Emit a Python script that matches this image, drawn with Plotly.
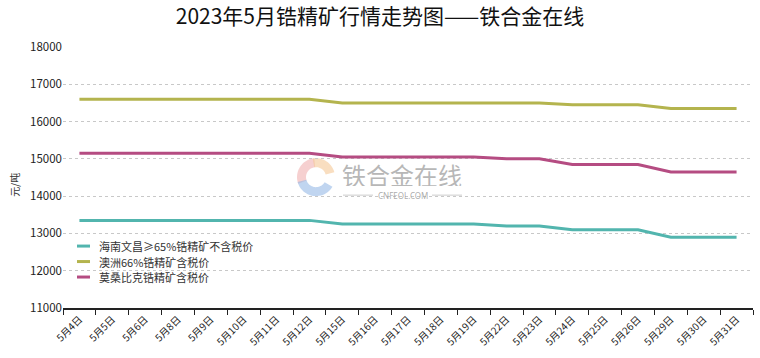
import math
import plotly.graph_objects as go

categories = ["5月4日", "5月5日", "5月6日", "5月8日", "5月9日", "5月10日", "5月11日",
              "5月12日", "5月15日", "5月16日", "5月17日", "5月18日", "5月19日", "5月22日",
              "5月23日", "5月24日", "5月25日", "5月26日", "5月29日", "5月30日", "5月31日"]

hainan = [13350, 13350, 13350, 13350, 13350, 13350, 13350, 13350, 13250, 13250, 13250,
          13250, 13250, 13200, 13200, 13100, 13100, 13100, 12900, 12900, 12900]
aozhou = [16600, 16600, 16600, 16600, 16600, 16600, 16600, 16600, 16500, 16500, 16500,
          16500, 16500, 16500, 16500, 16450, 16450, 16450, 16350, 16350, 16350]
mosang = [15150, 15150, 15150, 15150, 15150, 15150, 15150, 15150, 15050, 15050, 15050,
          15050, 15050, 15000, 15000, 14850, 14850, 14850, 14650, 14650, 14650]

series_names = ["海南文昌≥65%锆精矿不含税价", "澳洲66%锆精矿含税价", "莫桑比克锆精矿含税价"]
colors = ["#52B5AE", "#B4B44E", "#B54C82"]

y_ticks = [11000, 12000, 13000, 14000, 15000, 16000, 17000, 18000]
y_tick_text = [str(v) for v in y_ticks]

FONT = "Noto Sans CJK SC, Noto Sans, sans-serif"

fig = go.Figure()
for name, vals, col in zip(series_names, [hainan, aozhou, mosang], colors):
    fig.add_trace(go.Scatter(x=categories, y=vals, name=name, mode="lines",
                             line=dict(color=col, width=3), showlegend=False))

# plot area in pixels
L, R, T, B = 63, 753, 46.7, 308
W, H = 760, 358


def px2paper(px, py):
    return (px - L) / (R - L), (B - py) / (B - T)


def ring_path(cx, cy, r_out, r_in, a0, a1, n=24):
    pts = []
    for i in range(n + 1):
        a = math.radians(a0 + (a1 - a0) * i / n)
        pts.append((cx + r_out * math.cos(a), cy - r_out * math.sin(a)))
    for i in range(n, -1, -1):
        a = math.radians(a0 + (a1 - a0) * i / n)
        pts.append((cx + r_in * math.cos(a), cy - r_in * math.sin(a)))
    pp = [px2paper(x, y) for x, y in pts]
    return "M " + " L ".join(f"{x:.5f},{y:.5f}" for x, y in pp) + " Z"


shapes = []
annotations = []

# watermark logo
for a0, a1, col in [(95, 200, "rgba(238,170,170,0.55)"),
                    (15, 100, "rgba(245,200,150,0.6)"),
                    (195, 330, "rgba(150,185,230,0.6)")]:
    shapes.append(dict(type="path", xref="paper", yref="paper",
                       path=ring_path(316, 177, 19, 10, a0, a1),
                       fillcolor=col, line=dict(width=0), layer="below"))
for x0, x1 in [(343, 373), (432, 462)]:
    p0 = px2paper(x0, 195)
    p1 = px2paper(x1, 195)
    shapes.append(dict(type="line", xref="paper", yref="paper",
                       x0=p0[0], x1=p1[0], y0=p0[1], y1=p1[1],
                       line=dict(color="rgba(170,170,170,0.6)", width=1), layer="below"))

wx, wy = px2paper(402, 174)
annotations.append(dict(text="铁合金在线", x=wx, y=wy, xref="paper", yref="paper",
                        showarrow=False, borderpad=0, height=24,
                        font=dict(size=24, color="rgba(160,160,160,0.75)", family=FONT)))
cx_, cy_ = px2paper(402.5, 195.5)
annotations.append(dict(text="CNFEOL.COM", x=cx_, y=cy_, xref="paper", yref="paper",
                        showarrow=False, borderpad=0, height=9,
                        font=dict(size=8, color="rgba(150,150,150,0.8)",
                                  family="Noto Sans, sans-serif")))

# legend (drawn as line + label)
legend_y = [246, 261.5, 277]
for name, col, ly in zip(series_names, colors, legend_y):
    a = px2paper(77, ly)
    b = px2paper(90, ly)
    shapes.append(dict(type="line", xref="paper", yref="paper",
                       x0=a[0], x1=b[0], y0=a[1], y1=b[1],
                       line=dict(color=col, width=3)))
    t = px2paper(97, ly)
    annotations.append(dict(text=name, x=t[0], y=t[1], xref="paper", yref="paper",
                            xanchor="left", yanchor="middle", showarrow=False,
                            font=dict(size=11, color="#333", family=FONT)))

# y-axis title
yt = px2paper(5, 185)
annotations.append(dict(text="元/吨", x=yt[0], y=yt[1], xref="paper", yref="paper",
                        textangle=-90, showarrow=False,
                        font=dict(size=10, color="#333", family=FONT)))

fig.update_layout(
    width=W, height=H,
    margin=dict(l=L, r=W - R, t=T, b=H - B, autoexpand=False),
    paper_bgcolor="white", plot_bgcolor="white",
    font=dict(family=FONT, color="#222"),
    title=dict(text="2023年5月锆精矿行情走势图——铁合金在线", x=0.5, xanchor="center",
               y=1 - 17 / H, yanchor="middle", font=dict(size=21, color="#111", family=FONT)),
    showlegend=False,
    shapes=shapes,
    annotations=annotations,
)

fig.update_xaxes(type="category", tickson="boundaries", ticks="outside", ticklen=5,
                 tickcolor="#222", showline=True, linecolor="#222", linewidth=1.5,
                 showgrid=False, tickangle=-45, tickfont=dict(size=10, color="#222"),
                 range=[-0.5, len(categories) - 0.5], automargin=False)
fig.update_yaxes(range=[11000, 18000], tickvals=y_ticks, ticktext=y_tick_text,
                 showgrid=True, gridcolor="#c8c8c8", griddash="dot", gridwidth=1,
                 zeroline=False, showline=False, ticks="", automargin=False,
                 tickfont=dict(size=11.5, color="#222"))

fig.write_html("out.html", config={"displayModeBar": False},
               post_script="document.body.style.margin='0';document.body.style.overflow='hidden';")
